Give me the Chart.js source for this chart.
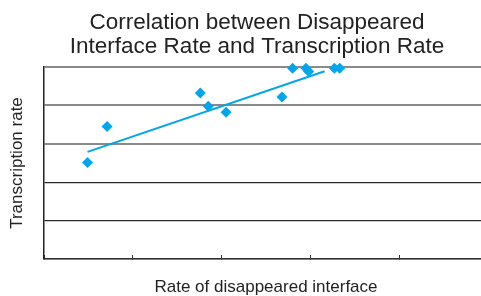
<!DOCTYPE html>
<html>
<head>
<meta charset="utf-8">
<script src="https://cdn.jsdelivr.net/npm/chart.js@4/dist/chart.umd.min.js"></script>
<style>
  html, body { margin: 0; padding: 0; background: #ffffff; overflow: hidden; width: 481px; height: 296px; }
  #wrap { position: absolute; left: 0; top: 0; width: 514px; height: 296px; }
</style>
</head>
<body>
<div id="wrap"><canvas id="c" width="514" height="296"></canvas></div>
<script>
// Data
const titleLines = ["Correlation between Disappeared", "Interface Rate and Transcription Rate"];
const xAxisTitle = "Rate of disappeared interface";
const yAxisTitle = "Transcription rate";
const interfaceRate = [0.49, 0.71, 1.76, 1.85, 2.05, 2.68, 2.80, 2.95, 2.98, 3.27, 3.33];
const transcriptionRate = [2.51, 3.45, 4.32, 3.98, 3.82, 4.22, 4.97, 4.97, 4.88, 4.97, 4.97];
const trendX = [0.49, 3.16];
const trendY = [2.79, 4.89];

const blue = '#00A6EB';
const scatterPoints = interfaceRate.map((x, i) => ({ x: x, y: transcriptionRate[i] }));
const trendPoints = trendX.map((x, i) => ({ x: x, y: trendY[i] }));

new Chart(document.getElementById('c'), {
  type: 'scatter',
  data: {
    datasets: [
      {
        data: trendPoints,
        type: 'line',
        showLine: true,
        borderColor: blue,
        borderWidth: 2,
        pointRadius: 0,
        fill: false,
        clip: false
      },
      {
        data: scatterPoints,
        pointStyle: 'rectRot',
        pointRadius: 5.5,
        backgroundColor: blue,
        borderColor: blue,
        borderWidth: 0,
        clip: false
      }
    ]
  },
  options: {
    responsive: false,
    animation: false,
    events: [],
    layout: { padding: 0 },
    plugins: {
      legend: { display: false },
      tooltip: { enabled: false },
      title: {
        display: true,
        text: titleLines,
        color: '#222222',
        font: { family: "'Liberation Sans', Arial, sans-serif", size: 22.5, weight: 'normal', lineHeight: 1.067 },
        padding: { top: 11, bottom: 8 }
      }
    },
    scales: {
      x: {
        type: 'linear',
        min: 0,
        max: 5,
        afterFit: (s) => { s.height = 37; },
        ticks: { display: false, stepSize: 1 },
        grid: { drawOnChartArea: false, drawTicks: true, tickLength: -4, color: '#333333', lineWidth: 1 },
        border: { display: true, color: '#333333', width: 1.5 },
        title: {
          display: true,
          text: xAxisTitle,
          color: '#222222',
          font: { family: "'Liberation Sans', Arial, sans-serif", size: 17, lineHeight: 1 },
          padding: { top: 0, bottom: 0 }
        }
      },
      y: {
        type: 'linear',
        min: 0,
        max: 5,
        afterFit: (s) => { s.width = 44; },
        ticks: { display: false, stepSize: 1 },
        grid: {
          drawTicks: false,
          tickLength: 0,
          color: (ctx) => (ctx.tick && ctx.tick.value >= 3 ? '#8a8a8a' : '#2a2a2a'),
          lineWidth: (ctx) => (ctx.tick && ctx.tick.value >= 3 ? 2 : 1.3)
        },
        border: { display: true, color: '#222222', width: 1.5 },
        title: {
          display: true,
          text: yAxisTitle,
          color: '#222222',
          font: { family: "'Liberation Sans', Arial, sans-serif", size: 17, lineHeight: 1 },
          padding: { top: 9, bottom: 0 }
        }
      },
      spacer: {
        type: 'linear',
        position: 'right',
        display: true,
        min: 0,
        max: 5,
        afterFit: (s) => { s.width = 26; },
        ticks: { display: false },
        grid: { display: false, drawTicks: false },
        border: { display: false },
        title: { display: false }
      }
    }
  }
});
</script>
</body>
</html>
